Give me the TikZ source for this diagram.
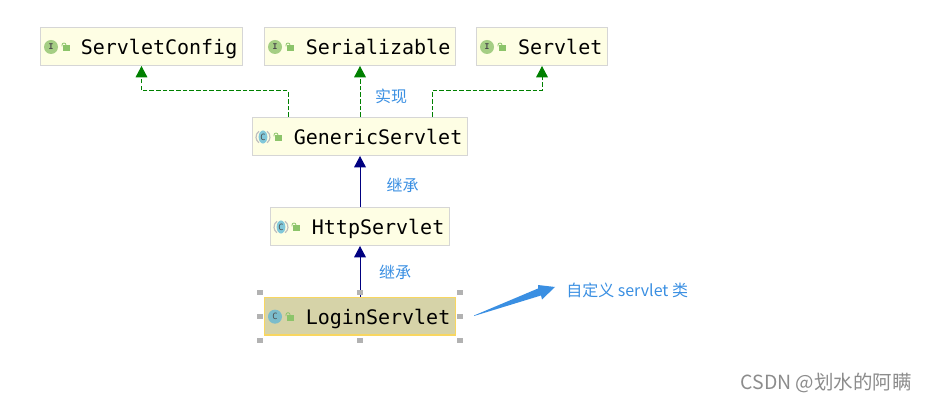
\documentclass[tikz,border=0pt]{standalone}
\usepackage{xcolor}
\usepackage{fontspec}
\setmonofont{DejaVu Sans Mono}
\newfontfamily\cjkfont{Noto Sans CJK SC}
\usetikzlibrary{arrows.meta,positioning,calc,shapes.geometric}
\definecolor{umlpaper}{RGB}{254,254,228}
\definecolor{umledge}{RGB}{214,214,214}
\definecolor{umlpick}{RGB}{214,211,168}
\definecolor{umlgold}{RGB}{248,214,96}
\definecolor{umlgreen}{RGB}{0,128,0}
\definecolor{umlnavy}{RGB}{0,0,128}
\definecolor{noteblue}{RGB}{58,143,226}
\definecolor{ifacegreen}{RGB}{165,206,132}
\definecolor{classcyan}{RGB}{130,200,218}
\definecolor{pickcyan}{RGB}{123,188,203}
\definecolor{lockgreen}{RGB}{140,196,106}
\tikzset{
  classbox/.style={rectangle, draw=umledge, line width=1pt, fill=umlpaper, align=right,
               font=\ttfamily\fontsize{15}{18}\selectfont, inner xsep=3.75pt, inner ysep=0pt,
               minimum height=28.25pt, text height=14pt, text depth=1.5pt},
  pickbox/.style={classbox, draw=umlgold, fill=umlpick},
  ifacemark/.style={circle, draw=none, fill=ifacegreen, inner sep=0pt, minimum size=10.5pt,
               font=\ttfamily\bfseries\fontsize{6}{6}\selectfont, text=black!70},
  abstractmark/.style={ellipse, draw=none, fill=classcyan, inner sep=0pt, minimum width=6.6pt, minimum height=9.8pt,
               font=\ttfamily\fontsize{6.5}{6.5}\selectfont, text=black!70},
  pickmark/.style={circle, draw=none, fill=pickcyan, inner sep=0pt, minimum size=10.5pt,
               font=\ttfamily\fontsize{6.5}{6.5}\selectfont, text=black!70},
  implarr/.style={-{Triangle[length=8.5pt,width=8.8pt]}, umlgreen, line width=.75pt, dash pattern=on 3.4pt off 1.6pt},
  extarr/.style={-{Triangle[length=8.5pt,width=8.8pt]}, umlnavy, line width=.75pt},
  notelbl/.style={inner sep=0pt, text=noteblue, font=\cjkfont\fontsize{12}{14}\selectfont},
  grip/.style={rectangle, draw=none, fill=black!30, inner sep=0pt, minimum size=3.8pt},
}
\newcommand{\classicon}[3]{
  \node[#2] (#1mark) at ($(#1.west)+(11,.5)$) {#3};
  \fill[lockgreen] ($(#1.west)+(23.3,-1)$) rectangle ($(#1.west)+(30,5)$);
  \draw[lockgreen, line width=.6pt] ($(#1.west)+(22,0)$) -- ++(0,-1.5) arc (180:360:2) -- ++(0,1);
}
\begin{document}
\begin{tikzpicture}[x=.75pt,y=-.75pt]
        \useasboundingbox (0,0) rectangle (927,402);
        \node[classbox, text width=143.75pt](config) at (141.5,46.5){ServletConfig};
        \node[classbox, text width=135.5pt, right=15.75pt of config](serial){Serializable};
        \node[classbox, text width=90.5pt, right=15pt of serial](servlet){Servlet};
        \node[classbox, text width=153.5pt, below=38.25pt of serial](generic){GenericServlet};
        \node[classbox, text width=126.5pt, below=38.25pt of generic](http){HttpServlet};
        \node[pickbox, text width=135.5pt, below=38pt of http](login){LoginServlet};

        \classicon{config}{ifacemark}{I}
        \classicon{serial}{ifacemark}{I}
        \classicon{servlet}{ifacemark}{I}
        \classicon{generic}{abstractmark}{C}
        \classicon{http}{abstractmark}{C}
        \classicon{login}{pickmark}{C}

        % grey brackets beside the C marks
        \foreach \cname in {generic,http}{
            \draw[black!25, line width=.9pt] ([shift={(125:5.25pt)}]\cname mark.center) arc (125:235:5.25pt);
            \draw[black!25, line width=.9pt] ([shift={(55:5.25pt)}]\cname mark.center) arc (55:-55:5.25pt);
        }

        \draw[implarr]([xshift=-54pt]generic.north)-- ++(0,-26) -| (config.south);
        \draw[implarr](generic.north)-- node[notelbl, right=11pt, yshift=-4pt]{实现} (serial.south);
        \draw[implarr]([xshift=54pt]generic.north)-- ++(0,-26) -| (servlet.south);
        \draw[extarr](http.north)-- node[notelbl, right=19.5pt, yshift=-2.5pt]{继承} (generic.south);
        \draw[extarr](login.north)-- node[notelbl, right=14pt, yshift=-1pt]{继承} (http.south);

        % selection grips round the picked class
        \foreach \gname/\gpos/\gx/\gy in {gnw/north west/-3/3, gn/north/0/3, gne/north east/3/3,
            gw/west/-3/0, ge/east/3/0, gsw/south west/-3/-3.6, gs/south/0/-3.6, gse/south east/3/-3.6}{
            \node[grip](\gname) at ([xshift=\gx pt,yshift=\gy pt]login.\gpos){};
        }

        \node[notelbl, anchor=west](custom) at (566,290){自定义 servlet 类};
        \coordinate (tail) at (474,315.5);
        \coordinate (tip) at (555,287);
        \fill[noteblue] (tail) -- (538,288.5) -- (538,285) -- (tip) -- (542,299.5) -- (541,295.5) -- (474,316) -- cycle;

        \node[inner sep=0pt, anchor=east, text=black!45, font=\cjkfont\fontsize{14.6}{16}\selectfont](mark) at (912,383){CSDN @划水的阿瞒};
    \end{tikzpicture}
\end{document}
